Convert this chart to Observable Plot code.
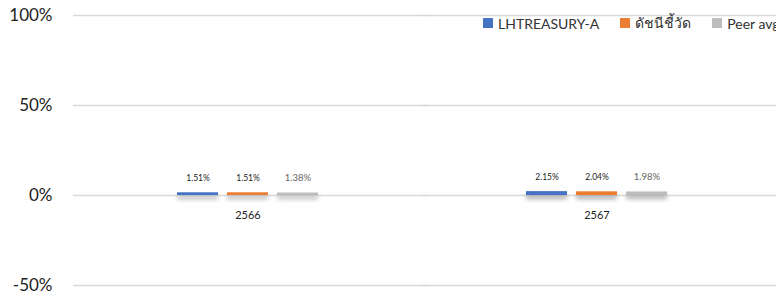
<!DOCTYPE html>
<html>
<head>
<meta charset="utf-8">
<script src="https://cdn.jsdelivr.net/npm/d3@7"></script>
<script src="https://cdn.jsdelivr.net/npm/@observablehq/plot@0.6"></script>
<style>
  html, body { margin: 0; padding: 0; background: #fff; overflow: hidden; }
  #wrap { position: relative; width: 776px; height: 297px; overflow: hidden; font-family: Lato, "Noto Sans", sans-serif; }
  #legend { position: absolute; top: 12px; left: 483px; display: flex; align-items: center; white-space: nowrap; font-size: 14px; color: #333; }
  #legend .item { display: flex; align-items: center; margin-right: 21px; }
  #legend .sw { width: 10px; height: 10px; margin-right: 5px; }
</style>
</head>
<body>
<div id="wrap"><div id="chart"></div><div id="legend"></div></div>
<script>
const years = ["2566", "2567"];
const seriesNames = ["LHTREASURY-A", "ดัชนีชี้วัด", "Peer avg"];
const colors = ["#4472C4", "#ED7D31", "#BDBDBD"];
const fundValues = [1.51, 2.15];
const benchmarkValues = [1.51, 2.04];
const peerValues = [1.38, 1.98];
const yTicks = [-50, 0, 50, 100];

const seriesValues = [fundValues, benchmarkValues, peerValues];
const data = [];
years.forEach((y, i) => seriesNames.forEach((s, j) => data.push({year: y, series: s, value: seriesValues[j][i]})));

const chart = Plot.plot({
  width: 776,
  height: 297,
  marginLeft: 73,
  marginRight: 5,
  marginTop: 15,
  marginBottom: 12,
  style: {fontFamily: "Lato, 'Noto Sans', sans-serif", background: "#fff"},
  fx: {domain: years, padding: 0, axis: null},
  x: {domain: seriesNames, paddingInner: 0.1765, paddingOuter: 2.01, axis: null},
  y: {domain: [-50, 100], axis: null},
  color: {domain: seriesNames, range: colors},
  marks: [
    Plot.ruleY(yTicks, {stroke: "#d9d9d9", strokeWidth: 1.5, insetRight: -5}),
    Plot.axisY({ticks: yTicks, tickSize: 0, tickPadding: 21, fontSize: 17, tickFormat: d => d + "%", label: null, fill: "#222"}),
    Plot.barY(data, {fx: "year", x: "series", y: "value", fill: "series"}),
    Plot.text(data.filter(d => d.series !== "Peer avg"), {fx: "year", x: "series", y: "value", text: d => d.value.toFixed(2) + "%", dy: -12, lineAnchor: "bottom", fontSize: 8.5, fill: "#222"}),
    Plot.text(data.filter(d => d.series === "Peer avg"), {fx: "year", x: "series", y: "value", text: d => d.value.toFixed(2) + "%", dy: -12, lineAnchor: "bottom", fontSize: 9.5, fill: "#666"}),
    Plot.text(years, {fx: d => d, y: () => 0, text: d => d, dy: 20, fontSize: 11, fill: "#222"})
  ]
});

// drop shadow under bars
const ns = "http://www.w3.org/2000/svg";
const defs = document.createElementNS(ns, "defs");
defs.innerHTML = '<filter id="barShadow" x="-20%" y="-100%" width="140%" height="600%"><feDropShadow dx="0" dy="4" stdDeviation="2" flood-color="#000" flood-opacity="0.35"/></filter>';
chart.insertBefore(defs, chart.firstChild);
chart.querySelectorAll('g[aria-label="bar"] rect').forEach(r => r.setAttribute("filter", "url(#barShadow)"));

document.getElementById("chart").appendChild(chart);

const legend = document.getElementById("legend");
seriesNames.forEach((s, i) => {
  const item = document.createElement("div");
  item.className = "item";
  const sw = document.createElement("div");
  sw.className = "sw";
  sw.style.background = colors[i];
  const t = document.createElement("span");
  t.textContent = s;
  item.appendChild(sw);
  item.appendChild(t);
  legend.appendChild(item);
});
</script>
</body>
</html>
